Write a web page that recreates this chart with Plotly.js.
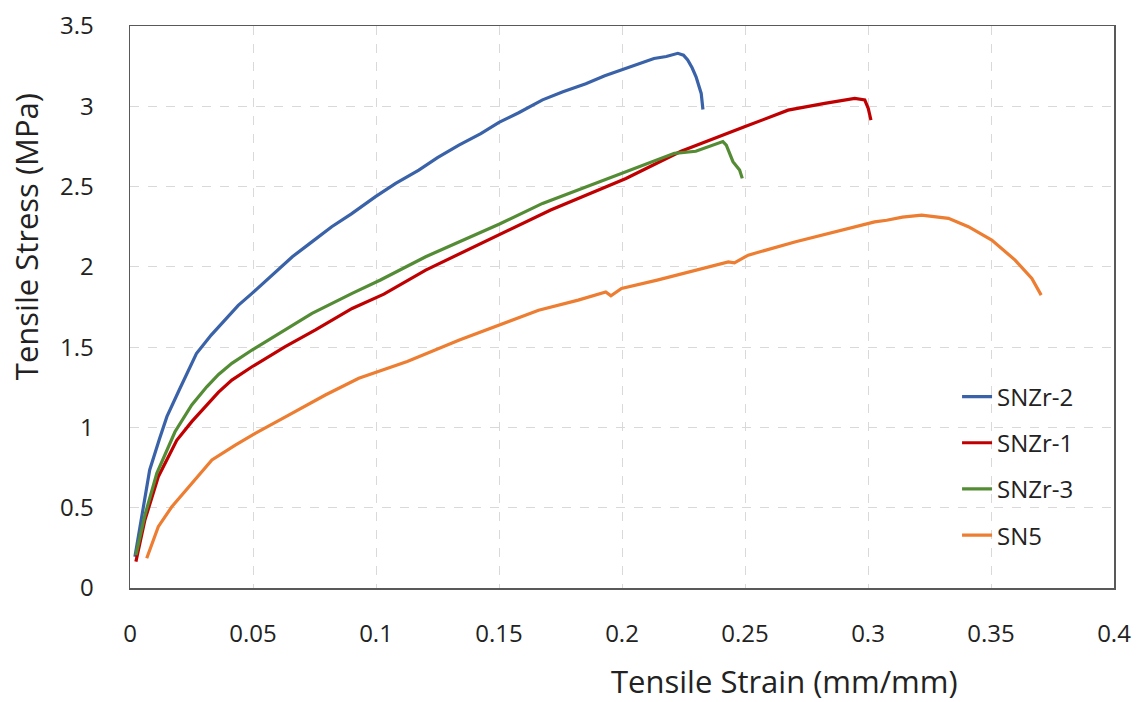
<!DOCTYPE html>
<html>
<head>
<meta charset="utf-8">
<script src="https://cdn.plot.ly/plotly-3.0.1.min.js"></script>
<style>html,body{margin:0;padding:0;background:#fff;}#chart{width:1140px;height:702px;}</style>
</head>
<body>
<div id="chart"></div>
<script>
// SNZr-2
const snzr2_x = [0.002, 0.005, 0.008, 0.012, 0.015, 0.020, 0.027, 0.033, 0.039, 0.044, 0.0496, 0.0577, 0.066, 0.0726, 0.082, 0.090, 0.0998, 0.108, 0.1174, 0.125, 0.1337, 0.1426, 0.150, 0.158, 0.1677, 0.176, 0.1853, 0.193, 0.2003, 0.206, 0.213, 0.218, 0.2227, 0.2250, 0.2267, 0.2285, 0.2301, 0.2322, 0.2329];
const snzr2_y = [0.195, 0.48, 0.735, 0.93, 1.067, 1.233, 1.46, 1.575, 1.68, 1.76, 1.835, 1.95, 2.063, 2.14, 2.25, 2.33, 2.437, 2.52, 2.603, 2.68, 2.758, 2.83, 2.90, 2.96, 3.04, 3.09, 3.14, 3.19, 3.23, 3.26, 3.298, 3.31, 3.33, 3.318, 3.288, 3.24, 3.184, 3.08, 2.98];
// SNZr-1
const snzr1_x = [0.0024, 0.006, 0.0115, 0.019, 0.0251, 0.0305, 0.036, 0.0414, 0.0496, 0.0631, 0.0754, 0.0903, 0.1032, 0.1202, 0.135, 0.150, 0.171, 0.2016, 0.224, 0.2498, 0.2566, 0.2675, 0.2824, 0.2919, 0.2946, 0.2987, 0.3001, 0.3012];
const snzr1_y = [0.164, 0.42, 0.693, 0.92, 1.036, 1.129, 1.22, 1.295, 1.378, 1.503, 1.607, 1.741, 1.83, 1.98, 2.09, 2.20, 2.354, 2.55, 2.72, 2.872, 2.91, 2.976, 3.018, 3.045, 3.049, 3.039, 2.987, 2.914];
// SNZr-3
const snzr3_x = [0.0024, 0.006, 0.0109, 0.0183, 0.0251, 0.0312, 0.036, 0.0414, 0.0496, 0.0631, 0.074, 0.0903, 0.1018, 0.1202, 0.1337, 0.150, 0.1677, 0.1853, 0.201, 0.2213, 0.2300, 0.2376, 0.241, 0.2424, 0.2451, 0.2478, 0.2489];
const snzr3_y = [0.205, 0.45, 0.714, 0.973, 1.14, 1.253, 1.33, 1.399, 1.482, 1.607, 1.71, 1.835, 1.918, 2.063, 2.156, 2.265, 2.395, 2.499, 2.59, 2.707, 2.72, 2.758, 2.78, 2.758, 2.655, 2.603, 2.551];
// SN5
const sn5_x = [0.0068, 0.0115, 0.017, 0.0251, 0.0333, 0.0428, 0.0509, 0.0645, 0.0794, 0.093, 0.1025, 0.1127, 0.1339, 0.150, 0.1661, 0.1822, 0.1934, 0.1955, 0.1998, 0.2143, 0.2304, 0.2432, 0.2457, 0.2513, 0.2706, 0.2867, 0.3027, 0.3076, 0.3140, 0.3218, 0.3327, 0.3408, 0.3503, 0.3598, 0.3666, 0.3704];
const sn5_y = [0.185, 0.382, 0.506, 0.652, 0.797, 0.89, 0.963, 1.077, 1.202, 1.306, 1.357, 1.41, 1.544, 1.637, 1.73, 1.793, 1.844, 1.82, 1.865, 1.917, 1.979, 2.031, 2.025, 2.073, 2.156, 2.218, 2.28, 2.29, 2.31, 2.322, 2.302, 2.25, 2.167, 2.042, 1.928, 1.824];

const xTicks = [0, 0.05, 0.1, 0.15, 0.2, 0.25, 0.3, 0.35, 0.4];
const xTickText = ['0', '0.05', '0.1', '0.15', '0.2', '0.25', '0.3', '0.35', '0.4'];
const yTicks = [0, 0.5, 1, 1.5, 2, 2.5, 3, 3.5];
const yTickText = ['0', '0.5', '1', '1.5', '2', '2.5', '3', '3.5'];

const FONT = '"Open Sans", "Noto Sans", sans-serif';

function tr(x, y, name, color, grp) {
  return {x: x, y: y, name: name, type: 'scatter', mode: 'lines', legendgroup: grp,
          line: {color: color, width: 3.2}};
}

const data = [
  tr(snzr2_x, snzr2_y, 'SNZr-2', '#3A62A8', 'a'),
  tr(snzr1_x, snzr1_y, 'SNZr-1', '#C00000', 'b'),
  tr(snzr3_x, snzr3_y, 'SNZr-3', '#548C35', 'c'),
  tr(sn5_x, sn5_y, 'SN5', '#ED7D31', 'd')
];

const layout = {
  width: 1140, height: 702,
  margin: {l: 130, r: 26, t: 26, b: 114},
  paper_bgcolor: '#ffffff', plot_bgcolor: '#ffffff',
  font: {family: FONT, color: '#222222', size: 24},
  showlegend: true,
  legend: {x: 0.8405, y: 0.38, xanchor: 'left', yanchor: 'top', bgcolor: 'rgba(0,0,0,0)',
           font: {size: 24, family: FONT, color: '#222222'}, tracegroupgap: 12, traceorder: 'grouped'},
  xaxis: {range: [0, 0.4], tickvals: xTicks, ticktext: xTickText, ticks: '', ticklabelstandoff: 24,
          showgrid: true, gridcolor: '#D9D9D9', griddash: 'dash', gridwidth: 1,
          zeroline: false, showline: true, linecolor: '#595959', linewidth: 1.5, mirror: true,
          tickfont: {size: 24, family: FONT, color: '#222222'}},
  yaxis: {range: [0, 3.5], tickvals: yTicks, ticktext: yTickText, ticks: '', ticklabelstandoff: 30,
          showgrid: true, gridcolor: '#D9D9D9', griddash: 'dash', gridwidth: 1,
          zeroline: false, showline: true, linecolor: '#595959', linewidth: 1.5, mirror: true,
          tickfont: {size: 24, family: FONT, color: '#222222'}},
  annotations: [
    {text: 'Tensile Strain (mm/mm)', xref: 'paper', yref: 'paper', x: 0.665, y: -0.1655,
     xanchor: 'center', yanchor: 'middle', showarrow: false, font: {size: 31, family: FONT, color: '#222222'}},
    {text: 'Tensile Stress (MPa)', xref: 'paper', yref: 'paper', x: -0.1055, y: 0.6246, textangle: -90,
     xanchor: 'center', yanchor: 'middle', showarrow: false, font: {size: 31, family: FONT, color: '#222222'}}
  ]
};

Plotly.newPlot('chart', data, layout, {displayModeBar: false, staticPlot: true});
</script>
</body>
</html>
